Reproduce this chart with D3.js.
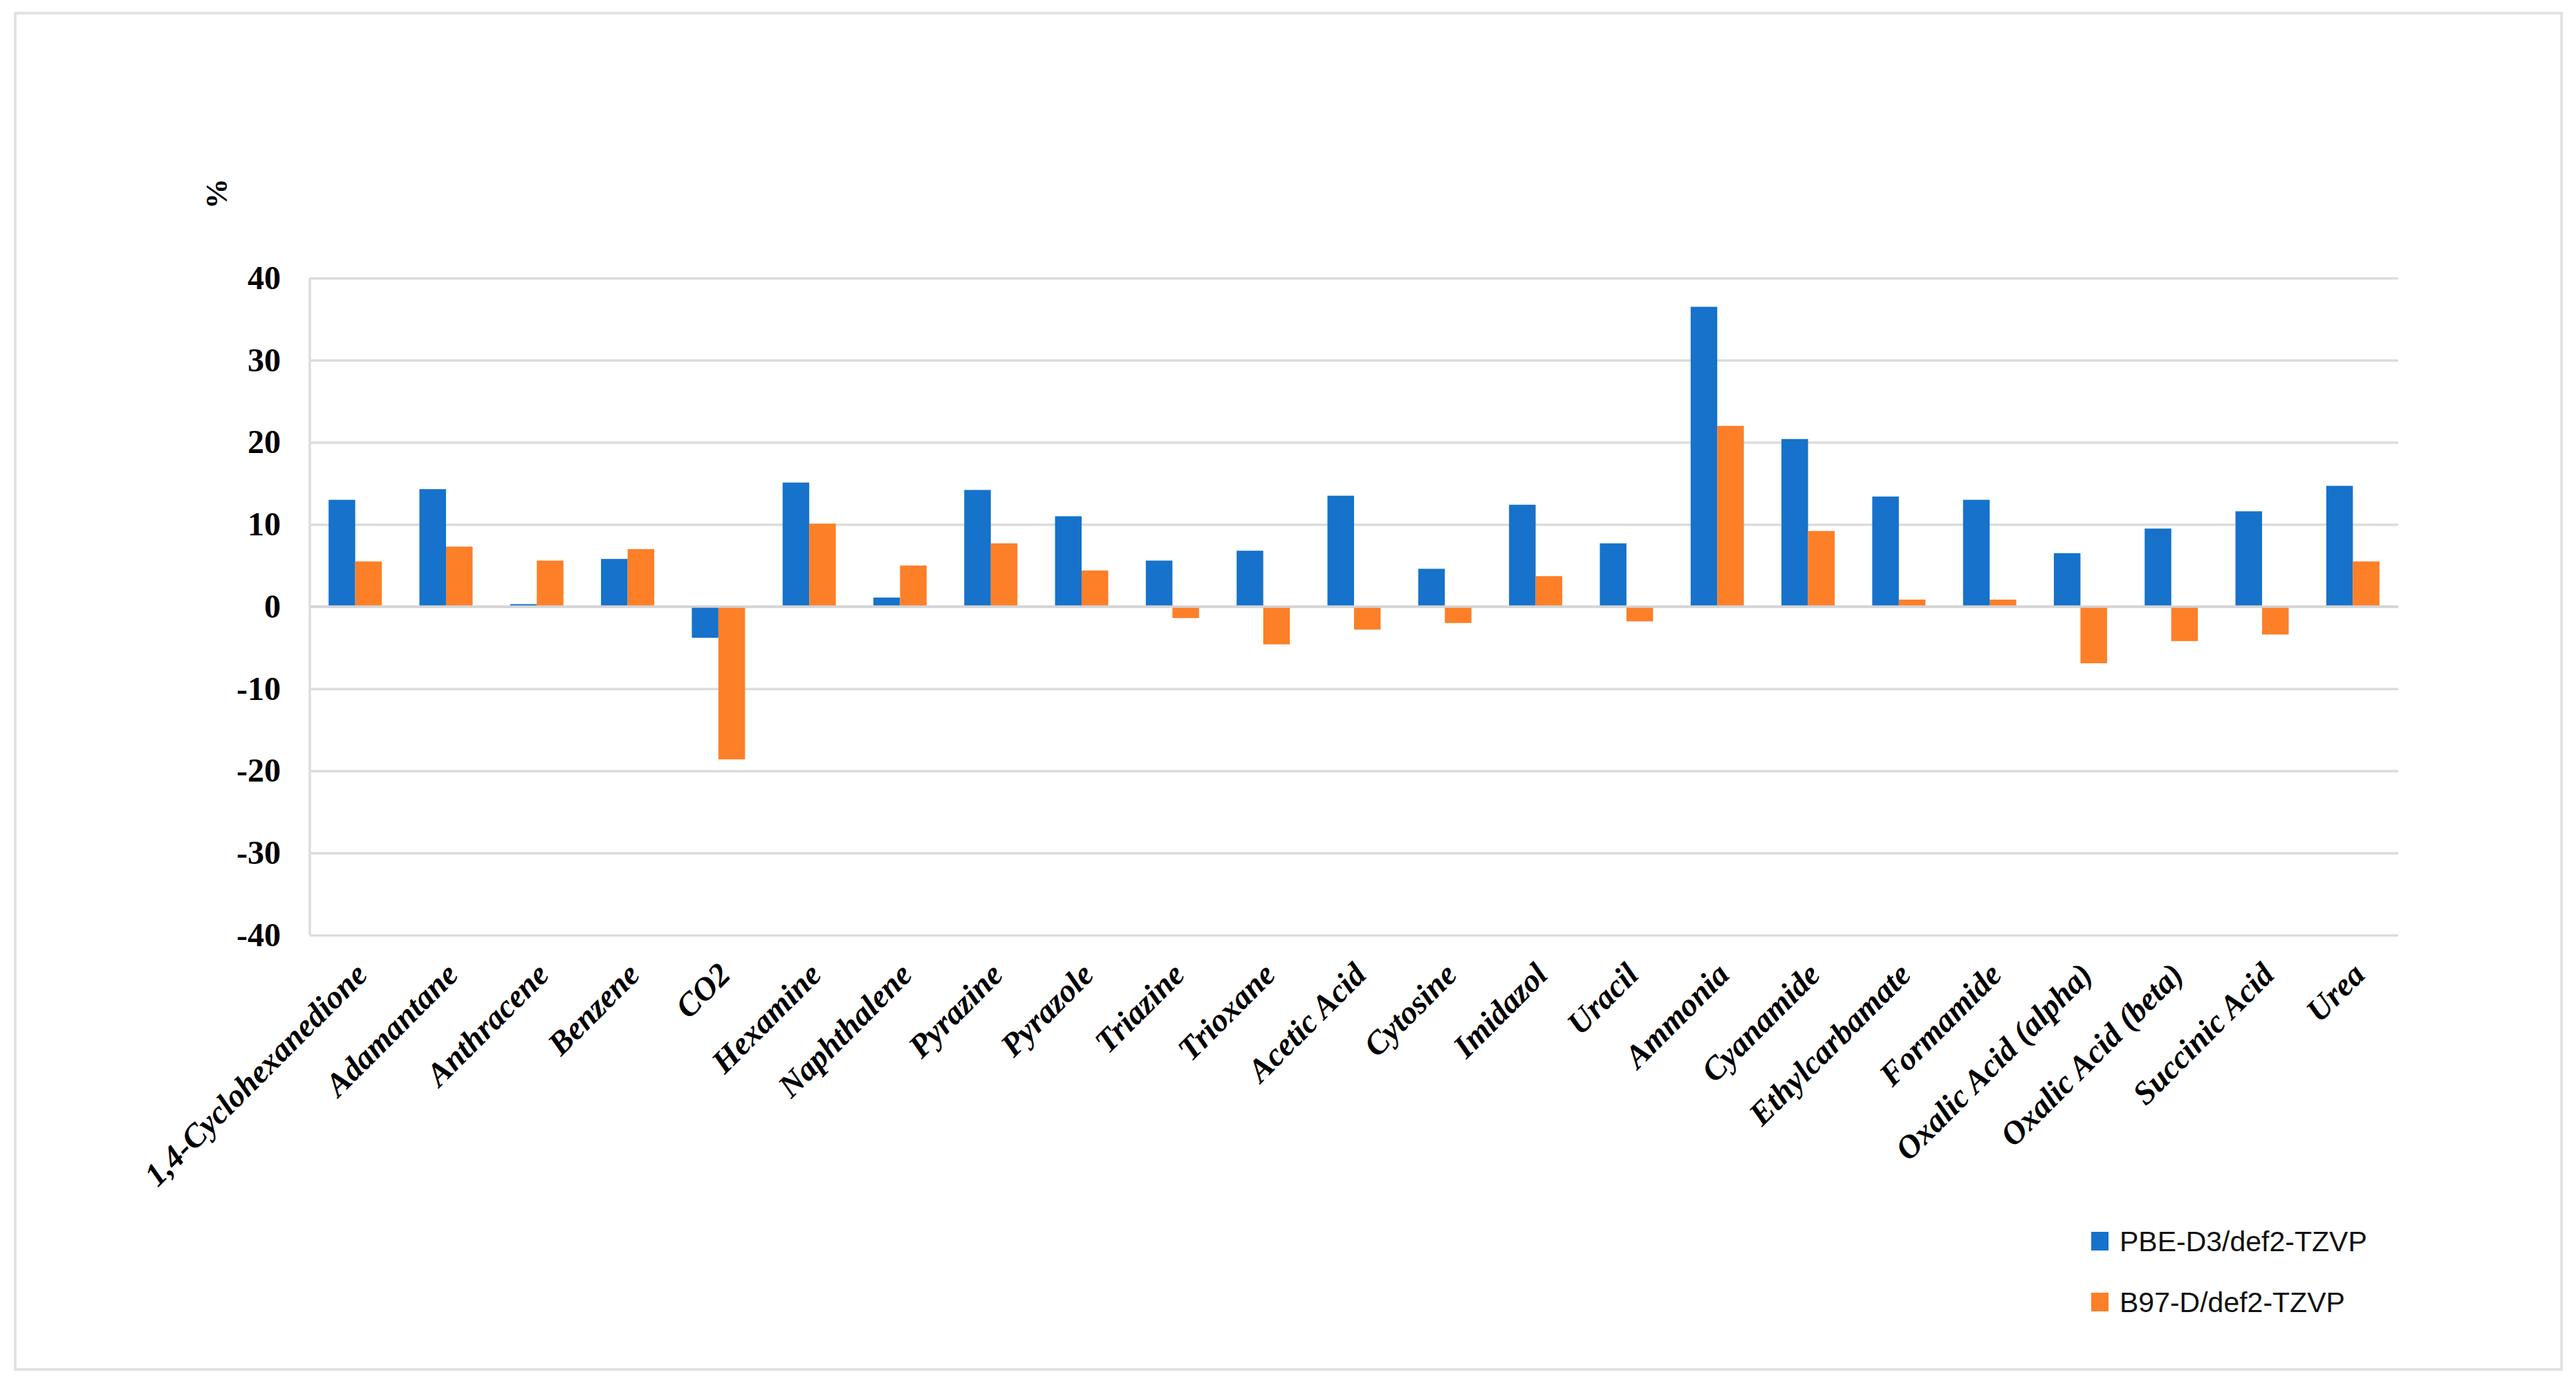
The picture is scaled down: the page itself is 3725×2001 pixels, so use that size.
<!DOCTYPE html>
<html>
<head>
<meta charset="utf-8">
<script src="https://cdn.jsdelivr.net/npm/d3@7"></script>
<style>
  body { margin: 0; background: #ffffff; }
</style>
</head>
<body>
<div id="vis"></div>
<script>
// Data
const CATEGORIES = [
  '1,4-Cyclohexanedione', 'Adamantane', 'Anthracene', 'Benzene', 'CO2',
  'Hexamine', 'Naphthalene', 'Pyrazine', 'Pyrazole', 'Triazine', 'Trioxane',
  'Acetic Acid', 'Cytosine', 'Imidazol', 'Uracil', 'Ammonia', 'Cyanamide',
  'Ethylcarbamate', 'Formamide', 'Oxalic Acid (alpha)', 'Oxalic Acid (beta)',
  'Succinic Acid', 'Urea',
];
const SERIES = ['PBE-D3/def2-TZVP', 'B97-D/def2-TZVP'];
const PBE_VALUES = [
  13.0, 14.3, 0.3, 5.8, -3.8, 15.1, 1.1, 14.2, 11.0, 5.6, 6.8, 13.5, 4.6,
  12.4, 7.7, 36.5, 20.4, 13.4, 13.0, 6.5, 9.5, 11.6, 14.7,
];
const B97_VALUES = [
  5.5, 7.3, 5.6, 7.0, -18.6, 10.1, 5.0, 7.7, 4.4, -1.4, -4.6, -2.8, -2.0,
  3.7, -1.8, 22.0, 9.2, 0.85, 0.85, -6.9, -4.2, -3.4, 5.5,
];
const Y_TICKS = [-40, -30, -20, -10, 0, 10, 20, 30, 40];
const COLORS = ['#1672CA', '#FD7F28'];

const WIDTH_VIS = 3725;
const HEIGHT_VIS = 2001;

const PLOT = { left: 448, right: 3468, top: 402, bottom: 1352 };

const SVG = d3.select('#vis').append('svg')
  .attr('width', WIDTH_VIS)
  .attr('height', HEIGHT_VIS);

const SERIF = '"Liberation Serif", "Times New Roman", serif';
const SANS = '"Liberation Sans", Arial, sans-serif';

function main() {
  // outer frame
  SVG.append('rect')
    .attr('x', 22).attr('y', 19)
    .attr('width', 3682).attr('height', 1961)
    .attr('fill', '#ffffff')
    .attr('stroke', '#e2e2e2')
    .attr('stroke-width', 4);

  const x = d3.scaleBand().domain(CATEGORIES).range([PLOT.left, PLOT.right]);
  const groupW = x.bandwidth() * 0.586;
  const xSeries = d3.scaleBand()
    .domain(SERIES)
    .range([(x.bandwidth() - groupW) / 2, (x.bandwidth() + groupW) / 2]);
  const y = d3.scaleLinear().domain([-40, 40]).range([PLOT.bottom, PLOT.top]);

  drawGrid(y);
  drawBars(x, xSeries, y);
  drawAxes(x, y);
  drawLegend();
}

function drawGrid(y) {
  const grid = SVG.append('g')
    .attr('transform', `translate(${PLOT.left},0)`)
    .call(d3.axisLeft(y).tickValues(Y_TICKS).tickSize(-(PLOT.right - PLOT.left)).tickFormat(''));
  grid.select('.domain').remove();
  grid.selectAll('.tick line')
    .attr('stroke', '#dcdcdc')
    .attr('stroke-width', 3.5);

  // left axis line
  SVG.append('line')
    .attr('x1', PLOT.left).attr('x2', PLOT.left)
    .attr('y1', PLOT.top).attr('y2', PLOT.bottom)
    .attr('stroke', '#dcdcdc')
    .attr('stroke-width', 3.5);
}

function drawBars(x, xSeries, y) {
  const rows = CATEGORIES.map((c, i) => ({
    cat: c,
    vals: [
      { s: SERIES[0], v: PBE_VALUES[i] },
      { s: SERIES[1], v: B97_VALUES[i] },
    ],
  }));

  const groups = SVG.append('g').selectAll('g')
    .data(rows)
    .join('g')
    .attr('transform', (d) => `translate(${x(d.cat)},0)`);

  groups.selectAll('rect')
    .data((d) => d.vals)
    .join('rect')
    .attr('x', (d) => xSeries(d.s))
    .attr('width', xSeries.bandwidth())
    .attr('y', (d) => y(Math.max(0, d.v)))
    .attr('height', (d) => Math.abs(y(d.v) - y(0)))
    .attr('fill', (d, i) => COLORS[i]);

  // zero line over the bars
  SVG.append('line')
    .attr('x1', PLOT.left).attr('x2', PLOT.right)
    .attr('y1', y(0)).attr('y2', y(0))
    .attr('stroke', '#d4d4d4')
    .attr('stroke-width', 3.5);
}

function drawAxes(x, y) {
  // y tick labels (plain hyphen for negatives, as in the original)
  const yAxis = SVG.append('g')
    .attr('transform', `translate(${PLOT.left - 42},0)`)
    .call(d3.axisLeft(y).tickValues(Y_TICKS).tickSize(0).tickPadding(0)
      .tickFormat((d) => String(d)));
  yAxis.select('.domain').remove();
  yAxis.selectAll('text')
    .attr('font-family', SERIF)
    .attr('font-weight', 'bold')
    .attr('font-size', 48)
    .attr('fill', '#000');

  // category labels, rotated
  const xAxis = SVG.append('g')
    .attr('transform', `translate(0,${PLOT.bottom})`)
    .call(d3.axisBottom(x).tickSize(0).tickPadding(0));
  xAxis.select('.domain').remove();
  xAxis.selectAll('text')
    .attr('font-family', SERIF)
    .attr('font-weight', 'bold')
    .attr('font-style', 'italic')
    .attr('font-size', 47)
    .attr('fill', '#000')
    .attr('text-anchor', 'end')
    .attr('dy', null)
    .attr('transform', 'translate(20,60) rotate(-45)');

  // unit label
  SVG.append('text')
    .attr('transform', 'translate(328,280) rotate(-90)')
    .attr('text-anchor', 'middle')
    .attr('font-family', SERIF)
    .attr('font-weight', 'bold')
    .attr('font-size', 44)
    .text('%');
}

function drawLegend() {
  const legend = SVG.append('g').attr('transform', 'translate(3024,0)');
  const rowsY = [1794, 1882];
  SERIES.forEach((s, i) => {
    legend.append('rect')
      .attr('x', 0).attr('y', rowsY[i] - 13)
      .attr('width', 25).attr('height', 27)
      .attr('fill', COLORS[i]);
    legend.append('text')
      .attr('x', 41).attr('y', rowsY[i] + 15)
      .attr('font-family', SANS)
      .attr('font-size', 41)
      .attr('fill', '#111')
      .text(s);
  });
}

main();
</script>
</body>
</html>
